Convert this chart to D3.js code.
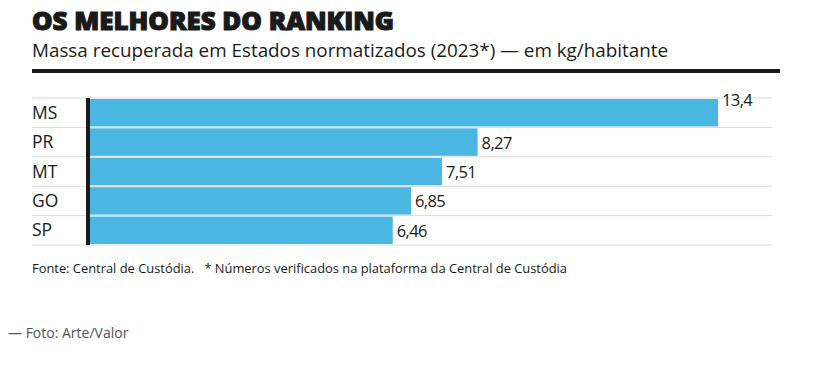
<!DOCTYPE html>
<html>
<head>
<meta charset="utf-8">
<script src="https://cdn.jsdelivr.net/npm/d3@7"></script>
<style>
  body { margin: 0; background: #fff; }
  text { font-family: "Open Sans", sans-serif; }
</style>
</head>
<body>
<div id="chart"></div>
<script>
// dados
const states = ["MS", "PR", "MT", "GO", "SP"];
const values = [13.4, 8.27, 7.51, 6.85, 6.46];
const valueLabels = ["13,4", "8,27", "7,51", "6,85", "6,46"];

const width = 817;
const height = 375;

const svg = d3.select("#chart")
    .append("svg")
    .attr("width", width)
    .attr("height", height);

//-----------------------------TITLES-----------------------------//
svg.append("text")
    .attr("x", 32).attr("y", 30)
    .attr("font-size", 25)
    .attr("font-weight", 800)
    .attr("textLength", 362)
    .attr("lengthAdjust", "spacingAndGlyphs")
    .attr("fill", "#1a1a1a")
    .attr("stroke", "#1a1a1a")
    .attr("stroke-width", 1.1)
    .text("OS MELHORES DO RANKING");

svg.append("text")
    .attr("x", 32).attr("y", 57)
    .attr("font-size", 18.5)
    .attr("textLength", 636)
    .attr("lengthAdjust", "spacingAndGlyphs")
    .attr("fill", "#1a1a1a")
    .text("Massa recuperada em Estados normatizados (2023*) — em kg/habitante");

svg.append("rect")
    .attr("x", 32).attr("y", 69)
    .attr("width", 748).attr("height", 4)
    .attr("fill", "#1a1a1a");

//-----------------------------SCALES-----------------------------//
const x0 = 90;
const xScale = d3.scaleLinear().domain([0, 13.4]).range([x0, 718]);
const yScale = d3.scaleBand().domain(states).range([98, 245]);

// grid lines
svg.append("g")
    .selectAll("line")
    .data(states.concat(["_end"]))
    .enter()
    .append("line")
    .attr("x1", 32).attr("x2", 772)
    .attr("y1", (d, i) => i < states.length ? yScale(d) : yScale.range()[1])
    .attr("y2", (d, i) => i < states.length ? yScale(d) : yScale.range()[1])
    .attr("stroke", "#d9d9d9")
    .attr("stroke-width", 1);

//-----------------------------BARS-----------------------------//
svg.append("g")
    .selectAll("rect")
    .data(values)
    .enter()
    .append("rect")
    .attr("x", x0)
    .attr("y", (d, i) => yScale(states[i]) + 1)
    .attr("width", d => xScale(d) - x0)
    .attr("height", yScale.bandwidth() - 2)
    .attr("fill", "#4ab6e2");

// axis bar
svg.append("rect")
    .attr("x", 86).attr("y", yScale.range()[0])
    .attr("width", 4).attr("height", yScale.range()[1] - yScale.range()[0])
    .attr("fill", "#1a1a1a");

// state labels
svg.append("g")
    .selectAll("text")
    .data(states)
    .enter()
    .append("text")
    .attr("x", 32)
    .attr("y", d => yScale(d) + yScale.bandwidth() / 2 + 6)
    .attr("font-size", 17.5)
    .attr("fill", "#1a1a1a")
    .text(d => d);

// value labels (largest one goes on top of row)
svg.append("g")
    .selectAll("text")
    .data(values)
    .enter()
    .append("text")
    .attr("x", d => xScale(d) + 4)
    .attr("y", (d, i) => yScale(states[i]) + (d === d3.max(values) ? 8 : yScale.bandwidth() / 2 + 6.5))
    .attr("font-size", 16.5)
    .attr("letter-spacing", -0.6)
    .attr("fill", "#1a1a1a")
    .text((d, i) => valueLabels[i]);

//-----------------------------FOOTER-----------------------------//
svg.append("text")
    .attr("x", 32).attr("y", 273)
    .attr("font-size", 13)
    .attr("textLength", 535)
    .attr("lengthAdjust", "spacingAndGlyphs")
    .style("white-space", "pre")
    .attr("fill", "#1a1a1a")
    .text("Fonte: Central de Custódia.   * Números verificados na plataforma da Central de Custódia");

svg.append("text")
    .attr("x", 8).attr("y", 338)
    .attr("font-size", 14)
    .attr("fill", "#555")
    .text("— Foto: Arte/Valor");
</script>
</body>
</html>
